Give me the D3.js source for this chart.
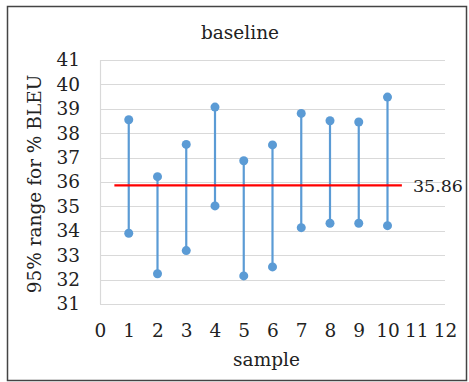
<!DOCTYPE html>
<html>
<head>
<meta charset="utf-8">
<script src="https://cdn.jsdelivr.net/npm/d3@7"></script>
<style>
  body { margin: 0; background: #fff; }
  svg text { font-family: "DejaVu Serif", serif !important; fill: #222; }
</style>
</head>
<body>
<div id="chart"></div>
<script>
// data
var samples = [1, 2, 3, 4, 5, 6, 7, 8, 9, 10];
var highs = [38.55, 36.22, 37.54, 39.07, 36.87, 37.52, 38.81, 38.51, 38.46, 39.48];
var lows = [33.9, 32.24, 33.19, 35.02, 32.15, 32.52, 34.13, 34.31, 34.31, 34.21];
var meanValue = 35.86;
var xTicks = d3.range(0, 13);
var yTicks = d3.range(31, 42);

var width = 469, height = 382;
var plot = { left: 100, right: 445, top: 60, bottom: 304 };
var fontSize = '18.5px';

var svg = d3.select('#chart')
  .append('svg')
  .attr('width', width)
  .attr('height', height);

// outer frame
svg.append('rect')
  .attr('x', 7.5).attr('y', 6.5)
  .attr('width', 459).attr('height', 374)
  .attr('fill', 'none')
  .attr('stroke', '#444')
  .attr('stroke-width', 1.5);

var x = d3.scaleLinear().domain([0, 12]).range([plot.left, plot.right]);
var y = d3.scaleLinear().domain([31, 41]).range([plot.bottom, plot.top]);

// gridlines
svg.append('g')
  .selectAll('line')
  .data(yTicks)
  .enter().append('line')
  .attr('x1', plot.left).attr('x2', plot.right)
  .attr('y1', function(d){ return Math.round(y(d)) + 0.5; })
  .attr('y2', function(d){ return Math.round(y(d)) + 0.5; })
  .attr('stroke', '#d9d9d9')
  .attr('stroke-width', 1.2);

// left edge
svg.append('line')
  .attr('x1', plot.left + 0.5).attr('x2', plot.left + 0.5)
  .attr('y1', plot.top).attr('y2', plot.bottom)
  .attr('stroke', '#d9d9d9')
  .attr('stroke-width', 1.2);

// y axis labels
var yAxis = d3.axisLeft(y).tickValues(yTicks).tickSize(0).tickPadding(20);
svg.append('g')
  .attr('transform', 'translate(' + plot.left + ',0)')
  .call(yAxis)
  .attr('font-size', fontSize)
  .call(function(g){ g.select('.domain').remove(); })
  .selectAll('text')
  .attr('fill', '#222');

// x axis labels
var xAxis = d3.axisBottom(x).tickValues(xTicks).tickSize(0).tickPadding(20);
svg.append('g')
  .attr('transform', 'translate(0,' + plot.bottom + ')')
  .call(xAxis)
  .attr('font-size', fontSize)
  .call(function(g){ g.select('.domain').remove(); })
  .selectAll('text')
  .attr('fill', '#222');

// range lines
var blue = '#5b9bd5';
var rows = samples.map(function(s, i){ return { s: s, hi: highs[i], lo: lows[i] }; });

svg.append('g')
  .selectAll('line')
  .data(rows)
  .enter().append('line')
  .attr('x1', function(d){ return x(d.s); })
  .attr('x2', function(d){ return x(d.s); })
  .attr('y1', function(d){ return y(d.hi); })
  .attr('y2', function(d){ return y(d.lo); })
  .attr('stroke', blue)
  .attr('stroke-width', 2.2);

var dots = [];
rows.forEach(function(d){ dots.push({ s: d.s, v: d.hi }); dots.push({ s: d.s, v: d.lo }); });
svg.append('g')
  .selectAll('circle')
  .data(dots)
  .enter().append('circle')
  .attr('cx', function(d){ return x(d.s); })
  .attr('cy', function(d){ return y(d.v); })
  .attr('r', 4.5)
  .attr('fill', blue);

// mean line
svg.append('line')
  .attr('x1', x(0.5)).attr('x2', x(10.5))
  .attr('y1', y(meanValue)).attr('y2', y(meanValue))
  .attr('stroke', '#ff0000')
  .attr('stroke-width', 2.2);

svg.append('text')
  .attr('x', x(10.5) + 11)
  .attr('y', y(meanValue) + 7)
  .style('font-size', '17.5px')
  .text(meanValue.toFixed(2));

// titles
svg.append('text')
  .attr('x', 240).attr('y', 39)
  .attr('text-anchor', 'middle')
  .style('font-size', fontSize)
  .text('baseline');

svg.append('text')
  .attr('x', (plot.left + plot.right) / 2 - 6).attr('y', 366)
  .attr('text-anchor', 'middle')
  .style('font-size', fontSize)
  .text('sample');

svg.append('text')
  .attr('transform', 'translate(41,' + ((plot.top + plot.bottom) / 2 + 2) + ') rotate(-90)')
  .attr('text-anchor', 'middle')
  .style('font-size', fontSize)
  .text('95% range for % BLEU');
</script>
</body>
</html>
